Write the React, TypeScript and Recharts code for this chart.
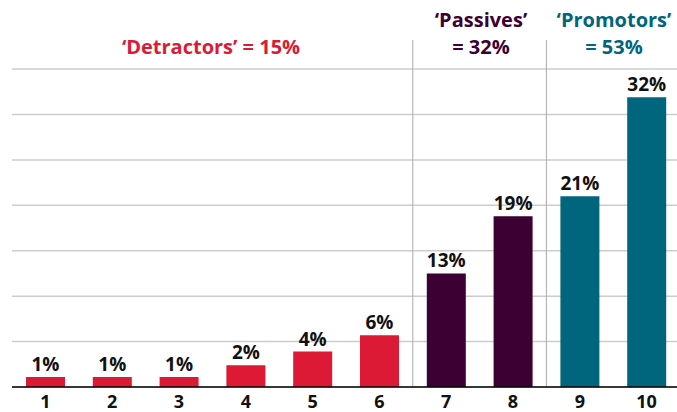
import React from "react";
import {
  BarChart,
  Bar,
  XAxis,
  YAxis,
  CartesianGrid,
  ReferenceLine,
  LabelList,
  Cell,
} from "recharts";

const scores = ["1", "2", "3", "4", "5", "6", "7", "8", "9", "10"];
const shares = [1.1, 1.1, 1.1, 2.4, 3.9, 5.7, 12.5, 18.8, 21, 31.9];
const shareLabels = ["1%", "1%", "1%", "2%", "4%", "6%", "13%", "19%", "21%", "32%"];
const groups = ["det", "det", "det", "det", "det", "det", "pas", "pas", "pro", "pro"];
const yTicks = [0, 5, 10, 15, 20, 25, 30, 35];
// group dividers sit on the left edge of these score bands
const dividers = ["7", "9"];

const colors: Record<string, string> = {
  det: "#DC1A35",
  pas: "#3D0033",
  pro: "#00667E",
};

const data = scores.map((s, i) => ({ score: s, share: shares[i], label: shareLabels[i], group: groups[i] }));

const font = "'Open Sans', 'DejaVu Sans', sans-serif";

const headStyle: React.CSSProperties = {
  position: "absolute",
  fontFamily: font,
  fontWeight: 700,
  fontSize: 20,
  lineHeight: "27px",
  textAlign: "center",
  width: 220,
  whiteSpace: "nowrap",
};

export default function App() {
  return (
    <div style={{ position: "fixed", left: 0, top: 0, width: 677, height: 412, overflow: "hidden", background: "#fff" }}>
      <BarChart
        width={690}
        height={412}
        data={data}
        margin={{ top: 40, right: 10, left: 12, bottom: 0 }}
        barCategoryGap={0}
      >
        <CartesianGrid vertical={false} horizontalValues={yTicks} stroke="#cccccc" strokeWidth={1.5} />
        <XAxis
          dataKey="score"
          height={25}
          axisLine={{ stroke: "#000", strokeWidth: 1.5 }}
          tickLine={false}
          tick={{ fill: "#111", fontSize: 18, fontWeight: 700, fontFamily: font }}
          interval={0}
        />
        <YAxis hide domain={[0, 38.2]} ticks={yTicks} />
        {dividers.map((d) => (
          <ReferenceLine key={d} x={d} position="start" stroke="#aaaaaa" strokeWidth={1} />
        ))}
        <Bar dataKey="share" barSize={39} isAnimationActive={false}>
          {data.map((d) => (
            <Cell key={d.score} fill={colors[d.group]} />
          ))}
          <LabelList
            dataKey="label"
            position="top"
            offset={6}
            style={{ fill: "#111", fontSize: 19, fontWeight: 700, fontFamily: font }}
          />
        </Bar>
      </BarChart>
      <div style={{ ...headStyle, left: 211 - 110, top: 33, color: colors.det }}>‘Detractors’ = 15%</div>
      <div style={{ ...headStyle, left: 481 - 110, top: 6, color: colors.pas }}>
        ‘Passives’
        <br />= 32%
      </div>
      <div style={{ ...headStyle, left: 614 - 110, top: 6, color: colors.pro }}>
        ‘Promotors’
        <br />= 53%
      </div>
    </div>
  );
}
